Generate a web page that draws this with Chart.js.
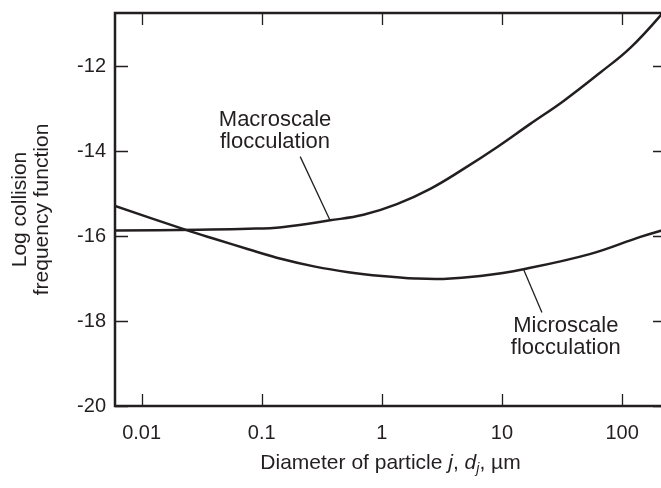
<!DOCTYPE html>
<html>
<head>
<meta charset="utf-8">
<script src="https://cdn.jsdelivr.net/npm/chart.js@4.4.0/dist/chart.umd.min.js"></script>
<style>
  html, body { margin: 0; padding: 0; background: #fff; overflow: hidden; }
  #wrap { width: 667px; height: 488px; }
</style>
</head>
<body>
<div id="wrap"><canvas id="collisionChart"></canvas></div>
<script>
// Collision frequency vs particle diameter, macro- and microscale flocculation

const ink = '#231f20';
const fontFamily = '"Liberation Sans", Arial, Helvetica, sans-serif';

// particle diameter d_j (µm) and log collision frequency
const macroDiam = [0.006, 0.03, 0.077, 0.147, 0.37, 0.703, 1.334, 2.527, 4.79, 9.08, 17.2, 32.6, 65.9, 117, 213, 232];
const macroLog  = [-15.87, -15.85, -15.83, -15.79, -15.63, -15.5, -15.25, -14.89, -14.42, -13.91, -13.36, -12.82, -12.15, -11.57, -10.78, -10.6];

const microDiam = [0.006, 0.0237, 0.0408, 0.0773, 0.147, 0.278, 0.527, 1.0, 1.9, 3.24, 6.6, 15.1, 54.7, 142, 232];
const microLog  = [-15.29, -15.86, -16.07, -16.31, -16.54, -16.72, -16.85, -16.94, -17.0, -17.01, -16.94, -16.78, -16.42, -16.02, -15.84];

const xTicks = [0.01, 0.1, 1, 10, 100];
const yTicks = [-20, -18, -16, -14, -12];

// curve labels: text centre and leader line (data units)
const notes = [
  { lines: ['Macroscale', 'flocculation'], at: [0.129, -13.53], from: [0.209, -14.13], to: [0.37, -15.63] },
  { lines: ['Microscale', 'flocculation'], at: [34, -18.38], from: [15.2, -16.8], to: [21.5, -17.8] }
];

const toPoints = (xs, ys) => xs.map((x, i) => ({ x, y: ys[i] }));

const framePlugin = {
  id: 'frame',
  afterDraw(chart) {
    const { ctx, chartArea: a, scales: { x, y } } = chart;
    ctx.save();
    ctx.strokeStyle = ink;
    ctx.fillStyle = ink;

    // tick marks point inward on all four sides
    ctx.lineWidth = 1.3;
    ctx.beginPath();
    x.ticks.forEach(t => {
      const px = Math.round(x.getPixelForValue(t.value)) + 0.5;
      ctx.moveTo(px, a.top); ctx.lineTo(px, a.top + 12);
      ctx.moveTo(px, a.bottom); ctx.lineTo(px, a.bottom - 12);
    });
    y.ticks.forEach(t => {
      const py = Math.round(y.getPixelForValue(t.value)) + 0.5;
      ctx.moveTo(a.left, py); ctx.lineTo(a.left + 13, py);
      ctx.moveTo(a.right, py); ctx.lineTo(a.right - 13, py);
    });
    ctx.stroke();

    ctx.lineWidth = 2.5;
    ctx.strokeRect(a.left, a.top, a.right - a.left, a.bottom - a.top);

    // curve labels with leader lines
    ctx.lineWidth = 1.3;
    ctx.font = '22px ' + fontFamily;
    ctx.textAlign = 'center';
    ctx.textBaseline = 'middle';
    notes.forEach(n => {
      ctx.beginPath();
      ctx.moveTo(x.getPixelForValue(n.from[0]), y.getPixelForValue(n.from[1]));
      ctx.lineTo(x.getPixelForValue(n.to[0]), y.getPixelForValue(n.to[1]));
      ctx.stroke();
      const cx = x.getPixelForValue(n.at[0]);
      const cy = y.getPixelForValue(n.at[1]);
      ctx.fillText(n.lines[0], cx, cy - 11);
      ctx.fillText(n.lines[1], cx, cy + 11);
    });

    // y axis title, two rotated lines
    const midY = (a.top + a.bottom) / 2;
    ctx.save();
    ctx.font = '21px ' + fontFamily;
    ctx.translate(20, midY);
    ctx.rotate(-Math.PI / 2);
    ctx.fillText('Log collision', 0, 0);
    ctx.fillText('frequency function', 0, 22);
    ctx.restore();

    // x axis title with italic j and subscript
    const runs = [
      { t: 'Diameter of particle ', f: '21px ' + fontFamily, dy: 0 },
      { t: 'j', f: 'italic 21px ' + fontFamily, dy: 0 },
      { t: ', ', f: '21px ' + fontFamily, dy: 0 },
      { t: 'd', f: 'italic 21px ' + fontFamily, dy: 0 },
      { t: 'j', f: 'italic 14px ' + fontFamily, dy: 4 },
      { t: ', \u00b5m', f: '21px ' + fontFamily, dy: 0 }
    ];
    ctx.textAlign = 'left';
    ctx.textBaseline = 'alphabetic';
    let total = 0;
    runs.forEach(r => { ctx.font = r.f; r.w = ctx.measureText(r.t).width; total += r.w; });
    let tx = (a.left + a.right) / 2 - total / 2;
    const baseY = 469;
    runs.forEach(r => {
      ctx.font = r.f;
      ctx.fillText(r.t, tx, baseY + r.dy);
      tx += r.w;
    });

    ctx.restore();
  }
};

const curveStyle = {
  borderColor: ink,
  borderWidth: 2.5,
  pointRadius: 0,
  fill: false,
  tension: 0.4
};

new Chart(document.getElementById('collisionChart'), {
  type: 'line',
  data: {
    datasets: [
      { label: 'Macroscale flocculation', data: toPoints(macroDiam, macroLog), ...curveStyle },
      { label: 'Microscale flocculation', data: toPoints(microDiam, microLog), ...curveStyle }
    ]
  },
  options: {
    responsive: true,
    maintainAspectRatio: false,
    animation: false,
    layout: { padding: { top: 13, right: 1, bottom: 0, left: 0 } },
    plugins: {
      legend: { display: false },
      tooltip: { enabled: false }
    },
    scales: {
      x: {
        type: 'logarithmic',
        position: 'bottom',
        min: 0.006,
        max: 232,
        grid: { display: false, drawTicks: false },
        border: { display: false },
        afterBuildTicks: s => { s.ticks = xTicks.map(v => ({ value: v })); },
        afterFit: s => { s.height = 82; s.paddingLeft = 0; s.paddingRight = 0; },
        ticks: {
          color: ink,
          padding: 15,
          maxRotation: 0,
          font: { family: fontFamily, size: 20 },
          callback: v => String(v)
        }
      },
      y: {
        type: 'linear',
        min: -20,
        max: -10.75,
        grid: { display: false, drawTicks: false },
        border: { display: false },
        afterBuildTicks: s => { s.ticks = yTicks.map(v => ({ value: v })); },
        afterFit: s => { s.width = 115; s.paddingTop = 0; s.paddingBottom = 0; },
        ticks: {
          color: ink,
          padding: 9,
          font: { family: fontFamily, size: 20 },
          callback: v => String(v)
        }
      }
    }
  },
  plugins: [framePlugin]
});
</script>
</body>
</html>
